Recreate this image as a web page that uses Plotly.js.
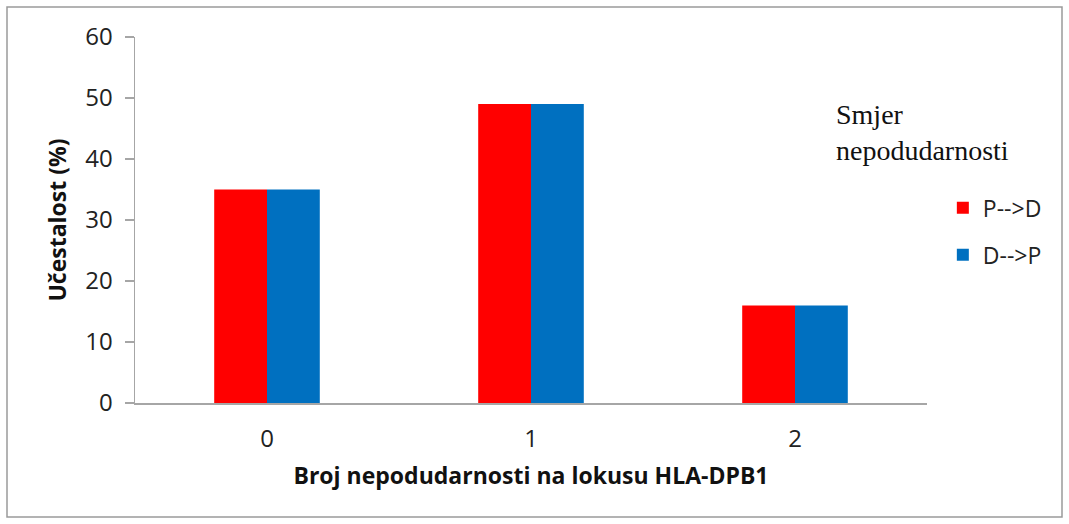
<!DOCTYPE html>
<html>
<head>
<meta charset="utf-8">
<script src="https://cdn.plot.ly/plotly-3.0.1.min.js"></script>
<style>html,body{margin:0;padding:0;background:#fff;}#chart{width:1069px;height:524px;}</style>
</head>
<body>
<div id="chart"></div>
<script>
var categories = ['0', '1', '2'];
var seriesPD = [35, 49, 16];
var seriesDP = [35, 49, 16];
var seriesNames = ['P-->D', 'D-->P'];
var yTicks = [0, 10, 20, 30, 40, 50, 60];

var sans = 'Open Sans, Liberation Sans, sans-serif';
var traces = [
  {type: 'bar', x: categories, y: seriesPD, name: seriesNames[0], legendgroup: 'a',
   marker: {color: '#FF0000', line: {width: 0}}},
  {type: 'bar', x: categories, y: seriesDP, name: seriesNames[1], legendgroup: 'b',
   marker: {color: '#0070C0', line: {width: 0}}}
];

var layout = {
  width: 1069, height: 524,
  margin: {l: 135, r: 142, t: 37, b: 121},
  paper_bgcolor: '#fff', plot_bgcolor: '#fff',
  barmode: 'group', bargap: 0.6, bargroupgap: 0,
  showlegend: true,
  legend: {x: 1.02, xanchor: 'left', y: 0.592, yanchor: 'top', traceorder: 'grouped',
           tracegroupgap: 14, font: {family: sans, size: 23, color: '#222'},
           itemwidth: 30, bgcolor: 'rgba(0,0,0,0)'},
  xaxis: {type: 'category', showline: true, linecolor: '#A6A6A6', linewidth: 1.5,
          ticks: '', showgrid: false, zeroline: false,
          tickfont: {family: sans, size: 24, color: '#222'}, ticklabelstandoff: 14,
          title: {text: 'Broj nepodudarnosti na lokusu HLA-DPB1', standoff: 14,
                  font: {family: sans, size: 23, color: '#111', weight: 'bold'}}},
  yaxis: {range: [0, 60], tickvals: yTicks, showline: true, linecolor: '#A6A6A6', linewidth: 1.5,
          ticks: 'outside', ticklen: 9, tickcolor: '#A6A6A6', tickwidth: 1.5,
          showgrid: false, zeroline: false,
          tickfont: {family: sans, size: 24, color: '#222'}, ticklabelstandoff: 7,
          title: {text: 'Učestalost (%)', standoff: 12,
                  font: {family: sans, size: 23, color: '#111', weight: 'bold'}}},
  annotations: [{xref: 'paper', yref: 'paper', x: (834 - 135) / 792, y: (403 - 97) / 366,
                 xanchor: 'left', yanchor: 'top', align: 'left', showarrow: false,
                 text: 'Smjer<br>nepodudarnosti',
                 font: {family: 'Liberation Serif, Times New Roman, serif', size: 28, color: '#111'}}],
  shapes: [{type: 'rect', xref: 'paper', yref: 'paper',
            x0: (7 - 135) / 792, x1: (1062 - 135) / 792, y0: (403 - 517) / 366, y1: (403 - 7) / 366,
            line: {color: '#9A9A9A', width: 1.5}, fillcolor: 'rgba(0,0,0,0)', layer: 'below'}]
};

Plotly.newPlot('chart', traces, layout, {staticPlot: true, displayModeBar: false});
</script>
</body>
</html>
